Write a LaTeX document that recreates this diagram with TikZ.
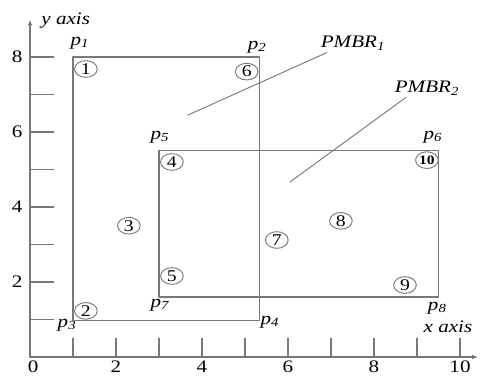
\documentclass[tikz,border=0pt]{standalone}
\usepackage{fontspec}
\setmainfont{Liberation Serif}[FakeStretch=1.2]
\usetikzlibrary{shapes.geometric,arrows.meta}
\definecolor{linegray}{RGB}{120,120,120}
\tikzset{
    lab/.style={
        font=\fontsize{15}{18}\selectfont\itshape
    }
}

\begin{document}
\begin{tikzpicture}[x=1.29cm,y=1.125cm, line cap=round, line join=round]

\tikzset{
  main/.style={draw=linegray, line width=1.1pt},
  lead/.style={draw=linegray, line width=0.8pt},
  axis/.style={draw=linegray, line width=1.1pt, -{Latex[length=5pt,width=4pt]}},
  num/.style={font=\fontsize{15}{18}\selectfont},
  pt/.style={ellipse, draw=linegray, line width=0.8pt, minimum width=0.68cm, minimum height=0.5cm, inner sep=0pt, font=\fontsize{14}{16}\selectfont},
}

\useasboundingbox (-0.698,-0.507) rectangle (10.465,9.52);

\coordinate (O) at (0,0);
\coordinate (XE) at (10.42,0);
\coordinate (YE) at (0,9.0);

% corners of the two rectangles
\coordinate (P1) at (1,8);
\coordinate (P2) at (5.33,8);
\coordinate (P3) at (1,0.97);
\coordinate (P4) at (5.33,0.97);
\coordinate (P5) at (3,5.5);
\coordinate (P6) at (9.5,5.5);
\coordinate (P7) at (3,1.6);
\coordinate (P8) at (9.5,1.6);

% axes
\draw[axis] (O) -- (XE);
\draw[axis] (O) -- (YE);

% ticks
\foreach \i in {1,...,10}
  \draw[main] (\i,0) -- (\i,0.5);
\foreach \j in {1,...,8}
  \draw[main] (0,\j) -- (0.55,\j);

\node[num] at (0.07,-0.25) {0};
\foreach \i in {2,4,...,10}
  \node[num] at (\i,-0.25) {\i};
\foreach \j in {2,4,...,8}
  \node[num] at (-0.3,\j) {\j};

\node[lab] (xlab) at (9.72,0.8) {x axis};
\node[lab] (ylab) at (0.83,8.96) {y axis};

% rectangles
\draw[main] (P1) -- (P2) -- (P4) -- (P3) -- cycle;
\draw[main] (P5) -- (P6) -- (P8) -- (P7) -- cycle;

% corner labels
\node[lab] at (1.16,8.37) {p\textsubscript{1}};
\node[lab] at (5.28,8.27) {p\textsubscript{2}};
\node[lab] at (0.86,0.85) {p\textsubscript{3}};
\node[lab] at (5.58,0.93) {p\textsubscript{4}};
\node[lab] at (3.02,5.87) {p\textsubscript{5}};
\node[lab] at (9.37,5.87) {p\textsubscript{6}};
\node[lab] at (3.02,1.39) {p\textsubscript{7}};
\node[lab] at (9.47,1.31) {p\textsubscript{8}};

% PMBR labels
\node[lab] (m1) at (7.51,8.37) {PMBR\textsubscript{1}};
\node[lab] (m2) at (9.23,7.17) {PMBR\textsubscript{2}};
\coordinate (m1e) at (3.67,6.45);
\coordinate (m2e) at (6.05,4.67);
\draw[lead] ([xshift=0.3cm,yshift=0.05cm]m1.south west) -- (m1e);
\draw[lead] ([xshift=0.45cm,yshift=0.05cm]m2.south west) -- (m2e);

% points
\node[pt] (c1) at (1.30,7.68) {1};
\node[pt] (c2) at (1.30,1.23) {2};
\node[pt] (c3) at (2.30,3.50) {3};
\node[pt] (c4) at (3.30,5.20) {4};
\node[pt] (c5) at (3.30,2.16) {5};
\node[pt] (c6) at (5.04,7.61) {6};
\node[pt] (c7) at (5.74,3.12) {7};
\node[pt] (c8) at (7.23,3.63) {8};
\node[pt] (c9) at (8.72,1.92) {9};
\node[pt, font=\fontsize{11}{13}\selectfont\bfseries] (c10) at (9.23,5.25) {10};

\end{tikzpicture}
\end{document}
